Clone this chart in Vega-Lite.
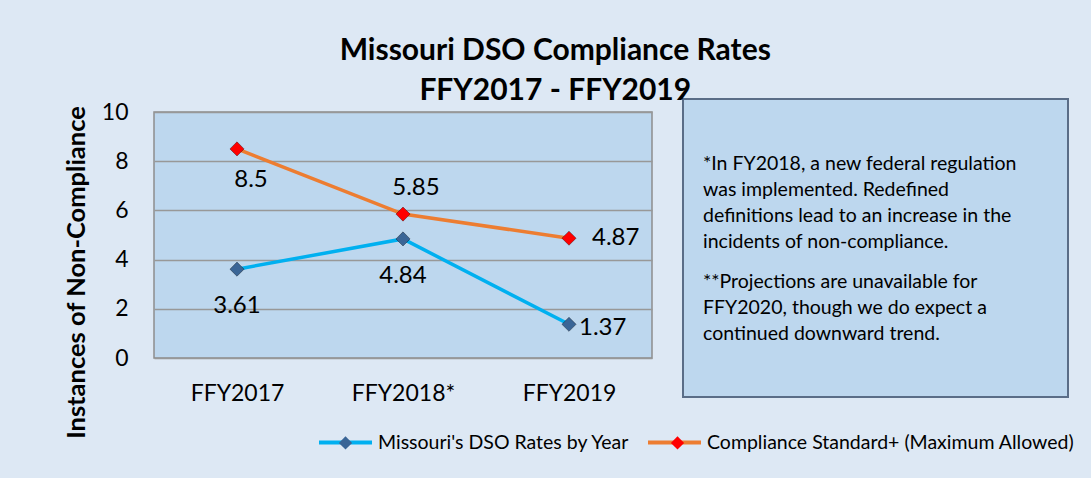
{
  "$schema": "https://vega.github.io/schema/vega-lite/v6.json",
  "background": "#dde8f4",
  "padding": {"left": 63, "top": 36, "right": 20, "bottom": 60},
  "title": {
    "text": ["Missouri DSO Compliance Rates", "FFY2017 - FFY2019"],
    "font": "Lato",
    "fontSize": 30,
    "fontWeight": "bold",
    "color": "#000000",
    "lineHeight": 40,
    "anchor": "middle",
    "offset": 0,
    "dx": -14,
    "dy": 8.5
  },
  "datasets": {
    "rates": [
      {"year": "FFY2017", "series": "Missouri's DSO Rates by Year", "value": 3.61},
      {"year": "FFY2018*", "series": "Missouri's DSO Rates by Year", "value": 4.84},
      {"year": "FFY2019", "series": "Missouri's DSO Rates by Year", "value": 1.37},
      {"year": "FFY2017", "series": "Compliance Standard+ (Maximum Allowed)", "value": 8.5},
      {"year": "FFY2018*", "series": "Compliance Standard+ (Maximum Allowed)", "value": 5.85},
      {"year": "FFY2019", "series": "Compliance Standard+ (Maximum Allowed)", "value": 4.87}
    ],
    "note": [
      {"para": 1, "text": "*In FY2018, a new federal regulation\nwas implemented. Redefined\ndefinitions lead to an increase in the\nincidents of non-compliance."},
      {"para": 2, "text": "**Projections are unavailable for\nFFY2020, though we do expect a\ncontinued downward trend."}
    ]
  },
  "spacing": 29,
  "hconcat": [
    {
      "width": 498,
      "height": 246,
      "data": {"name": "rates"},
      "view": {"fill": "#bdd7ee", "stroke": "#8d8d8d", "strokeWidth": 1.5},
      "encoding": {
        "x": {
          "field": "year",
          "type": "ordinal",
          "sort": ["FFY2017", "FFY2018*", "FFY2019"],
          "scale": {"type": "point", "padding": 0.5},
          "axis": {"title": null, "labelAngle": 0, "ticks": false, "domain": false, "grid": false, "labelFontSize": 23, "labelPadding": 24, "labelColor": "#000000"}
        },
        "y": {
          "field": "value",
          "type": "quantitative",
          "scale": {"domain": [0, 10], "nice": false},
          "axis": {
            "title": "Instances of Non-Compliance",
            "values": [0, 2, 4, 6, 8, 10],
            "titleFontSize": 25.5,
            "titleFontWeight": "bold",
            "titleColor": "#000000",
            "titlePadding": 12,
            "titleY": 160,
            "labelFontSize": 23,
            "labelColor": "#000000",
            "labelPadding": 26,
            "ticks": false,
            "domain": false,
            "gridColor": "#989898",
            "gridWidth": 1.5
          }
        }
      },
      "layer": [
        {
          "mark": {"type": "line", "strokeWidth": 3.5},
          "encoding": {
            "color": {
              "field": "series",
              "type": "nominal",
              "scale": {"domain": ["Missouri's DSO Rates by Year", "Compliance Standard+ (Maximum Allowed)"], "range": ["#00b0f0", "#ed7d31"]},
              "legend": {
                "orient": "none", "legendX": 163, "legendY": 302, "direction": "horizontal", "title": null, "zindex": 0,
                "symbolType": "stroke", "symbolSize": 2809, "symbolStrokeWidth": 4,
                "labelFontSize": 19.5, "labelColor": "#000000", "labelOffset": 4, "columnPadding": 10, "labelLimit": 600
              }
            }
          }
        },
        {
          "mark": {"type": "point", "shape": "diamond", "filled": true, "size": 200, "opacity": 1, "stroke": "#000000", "strokeOpacity": 0.35, "strokeWidth": 1},
          "encoding": {
            "fill": {
              "field": "series",
              "type": "nominal",
              "sort": ["Missouri's DSO Rates by Year", "Compliance Standard+ (Maximum Allowed)"],
              "scale": {"range": ["#3a6596", "#ff0000"]},
              "legend": {
                "orient": "none", "legendX": 163, "legendY": 302, "direction": "horizontal", "title": null, "zindex": 1,
                "symbolType": "M-0.25,0L0,-0.25L0.25,0L0,0.25Z", "symbolSize": 2809, "symbolStrokeWidth": 4, "symbolStrokeColor": "transparent",
                "labelExpr": "''", "labelFontSize": 19.5, "labelOffset": 4, "columnPadding": 271, "labelLimit": 600
              }
            }
          }
        },
        {
          "transform": [{"filter": "datum.series === \"Missouri's DSO Rates by Year\" && datum.year !== 'FFY2019'"}],
          "mark": {"type": "text", "fontSize": 24, "dy": 37, "color": "#000000"},
          "encoding": {"text": {"field": "value", "type": "quantitative"}}
        },
        {
          "transform": [{"filter": "datum.series !== \"Missouri's DSO Rates by Year\" && datum.year === 'FFY2017'"}],
          "mark": {"type": "text", "fontSize": 24, "dx": 14, "dy": 31, "color": "#000000"},
          "encoding": {"text": {"field": "value", "type": "quantitative"}}
        },
        {
          "transform": [{"filter": "datum.series !== \"Missouri's DSO Rates by Year\" && datum.year === 'FFY2018*'"}],
          "mark": {"type": "text", "fontSize": 24, "dx": 13, "dy": -26, "color": "#000000"},
          "encoding": {"text": {"field": "value", "type": "quantitative"}}
        },
        {
          "transform": [{"filter": "datum.series !== \"Missouri's DSO Rates by Year\" && datum.year === 'FFY2019'"}],
          "mark": {"type": "text", "fontSize": 24, "align": "left", "dx": 23, "dy": 0, "color": "#000000"},
          "encoding": {"text": {"field": "value", "type": "quantitative"}}
        },
        {
          "transform": [{"filter": "datum.series === \"Missouri's DSO Rates by Year\" && datum.year === 'FFY2019'"}],
          "mark": {"type": "text", "fontSize": 24, "align": "left", "dx": 10, "dy": 4, "color": "#000000"},
          "encoding": {"text": {"field": "value", "type": "quantitative"}}
        }
      ]
    },
    {
      "width": 385,
      "height": 285,
      "view": {"stroke": null},
      "layer": [
        {
          "data": {"values": [{"box": "note"}]},
          "mark": {"type": "rect", "fill": "#bdd7ee", "stroke": "#5a6d87", "strokeWidth": 2},
          "encoding": {
            "x": {"datum": -0.052, "type": "quantitative", "scale": {"domain": [-0.052, 0.948], "nice": false, "zero": false}, "axis": null},
            "x2": {"datum": 0.948},
            "y": {"datum": 0.5254, "type": "quantitative", "scale": {"domain": [0.6356, 3.0508], "nice": false, "zero": false, "reverse": true}, "axis": null},
            "y2": {"datum": 3.0508}
          }
        },
        {
          "data": {"name": "note"},
          "mark": {"type": "text", "align": "left", "baseline": "top", "lineBreak": "\n", "lineHeight": 26, "fontSize": 19.5, "color": "#000000"},
          "encoding": {
            "x": {"datum": 0, "type": "quantitative", "scale": {"domain": [-0.052, 0.948], "nice": false, "zero": false}, "axis": null},
            "y": {"field": "para", "type": "quantitative", "scale": {"domain": [0.6356, 3.0508], "nice": false, "zero": false, "reverse": true}, "axis": null},
            "text": {"field": "text", "type": "nominal"}
          }
        }
      ]
    }
  ],
  "config": {
    "font": "Lato",
    "axis": {"labelFont": "Lato", "titleFont": "Lato"},
    "legend": {"labelFont": "Lato"},
    "title": {"font": "Lato"}
  }
}
